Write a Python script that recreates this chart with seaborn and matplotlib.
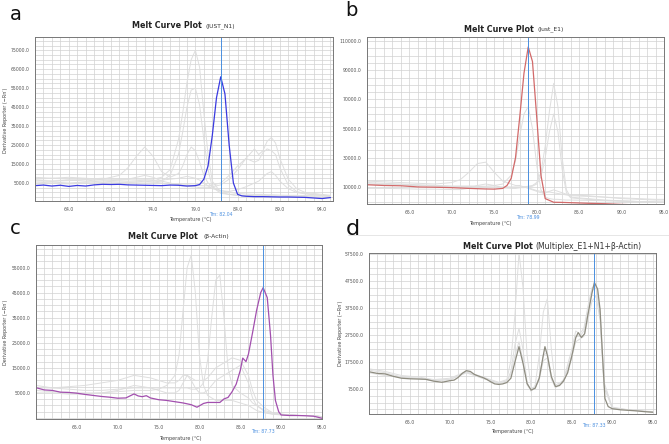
import matplotlib
matplotlib.use("Agg")
import matplotlib.pyplot as plt
import matplotlib.transforms as mtransforms
from matplotlib.ticker import MultipleLocator
from matplotlib.lines import Line2D
import seaborn as sns

# ---------------- panel a (JUST_N1) ----------------
a_main_t = [60, 61, 62, 63, 64, 65, 66, 67, 68, 69, 70, 71, 72, 73, 74, 75, 76, 77, 78, 79,
            79.5, 80, 80.5, 81, 81.5, 82, 82.5, 83, 83.5, 84, 84.5, 85, 86, 87, 88, 89, 90,
            91, 92, 93, 94, 95]
a_main_v = [3600, 3900, 3400, 3800, 3200, 3700, 3400, 4000, 4300, 4200, 4300, 4000, 3900, 3800,
            3700, 3600, 3900, 3800, 3400, 3600, 4200, 7000, 14000, 30000, 50000, 61000, 52000,
            25000, 5000, -1000, -1800, -2000, -2200, -2200, -2300, -2400, -2400, -2500, -2600,
            -2900, -3200, -2700]
a_gray_t = [60, 62, 64, 66, 68, 70, 71, 72, 73, 74, 75, 76, 77, 77.5, 78, 78.5, 79, 79.5, 80,
            80.5, 81, 82, 83, 84, 85, 86, 86.5, 87, 87.5, 88, 88.5, 89, 90, 91, 92, 94, 95]
a_gray = [
    [7000, 7500, 7000, 7000, 7500, 7000, 7000, 7000, 7000, 7000, 8000, 12000, 28000, 42000,
     58000, 70000, 75000, 66000, 42000, 20000, 6000, 0, -1000, -1500, -1500, -1500, -1500,
     -1500, -1500, -1800, -1800, -2000, -2000, -2000, -2200, -2500, -2500],
    [5000, 5500, 5000, 5500, 6000, 5500, 5500, 5500, 5500, 5500, 6000, 9000, 20000, 32000,
     45000, 54000, 55000, 46000, 28000, 12000, 3000, -500, -1000, -1500, -1800, -2000, -2000,
     -2000, -2000, -2200, -2200, -2300, -2300, -2400, -2400, -2500, -2500],
    [6000, 6000, 6500, 6000, 7000, 9000, 13000, 19000, 24000, 19000, 11000, 8000, 10000, 14000,
     20000, 24000, 22000, 16000, 9000, 5000, 3000, 1000, 0, -500, -800, -1000, -1000, -1000,
     -1200, -1200, -1300, -1400, -1500, -1500, -1600, -1800, -2000],
    [8000, 7500, 8000, 7500, 7000, 7000, 7000, 8000, 9000, 8000, 6000, 5000, 4000, 3500, 3500,
     3000, 3000, 2500, 2500, 2500, 3000, 4000, 7000, 12000, 18000, 23000, 20000, 22000, 27000,
     29000, 26000, 18000, 7000, 2000, 0, -1000, -1500],
    [4500, 4800, 4500, 5000, 5200, 5000, 5200, 5500, 6000, 5500, 5000, 4500, 4200, 4000, 4000,
     3800, 3800, 3600, 3500, 3500, 3800, 5000, 9000, 14000, 18000, 16000, 17000, 21000, 23000,
     22000, 20000, 13000, 4000, 500, -500, -1500, -2000],
    [6500, 6000, 6200, 6800, 6500, 6200, 6000, 6200, 6500, 6300, 6500, 7000, 7500, 8000, 8500,
     8000, 7500, 6500, 5000, 3500, 2000, 1000, 500, 1500, 3000, 5000, 6000, 8000, 10000, 11000,
     9000, 6000, 2000, 0, -800, -1500, -1800],
]

# ---------------- panel b (Just_E1) ----------------
b_main_t = [60, 62, 64, 66, 68, 70, 72, 74, 75, 76, 76.5, 77, 77.5, 78, 78.5, 79, 79.5, 80,
            80.5, 81, 82, 83, 84, 85, 86, 88, 90, 92, 94, 95]
b_main_v = [11500, 11000, 10800, 10000, 9800, 9500, 9000, 8600, 8500, 9000, 11000, 16000, 30000,
            58000, 88000, 106000, 96000, 58000, 18000, 2000, -500, -600, -800, -1000, -1200,
            -1500, -2000, -2300, -2600, -3000]
b_gray_t = [60, 62, 64, 66, 68, 70, 71, 72, 73, 74, 75, 76, 77, 77.5, 78, 78.5, 79, 79.5, 80,
            80.5, 81, 81.5, 82, 82.5, 83, 83.5, 84, 86, 88, 90, 92, 94, 95]
b_gray = [
    [13000, 12500, 12000, 11500, 11000, 10500, 10500, 10500, 10500, 10000, 10000, 10000, 10000,
     10000, 10000, 10000, 10500, 11000, 13000, 20000, 38000, 62000, 81000, 65000, 30000, 8000,
     3000, 2000, 1000, 500, 0, -500, -500],
    [12000, 11500, 11500, 11000, 10500, 10000, 10000, 10000, 9500, 9500, 9500, 9500, 9500, 9500,
     9500, 9500, 10000, 10500, 12000, 17000, 30000, 48000, 60000, 48000, 22000, 6000, 2500,
     1500, 800, 300, 0, -300, -500],
    [14000, 13500, 13000, 12500, 12000, 13000, 15000, 20000, 26000, 27000, 20000, 14000, 12000,
     11000, 11000, 10000, 9000, 8000, 7000, 6000, 6000, 7000, 8000, 7000, 6000, 5000, 4500,
     4000, 3000, 2000, 1500, 1000, 1000],
    [12000, 12000, 11500, 11000, 11000, 10500, 10500, 10500, 10500, 10500, 11000, 12000, 18000,
     28000, 45000, 60000, 65000, 50000, 25000, 8000, 3000, 2000, 1500, 1500, 1200, 1000, 1000,
     800, 500, 200, 0, -200, -300],
    [9000, 9000, 8800, 8500, 8500, 8200, 8200, 9000, 11000, 12000, 11000, 9500, 9000, 9000,
     9500, 10000, 9500, 8500, 7500, 7000, 6500, 6500, 6000, 5500, 5000, 4500, 4000, 3500, 3000,
     2500, 2000, 1500, 1500],
]

# ---------------- panel c (beta-Actin) ----------------
c_main_t = [60, 61, 62, 63, 64, 65, 66, 67, 68, 69, 70, 71, 72, 72.5, 73, 73.5, 74, 75, 76, 77,
            78, 79, 79.7, 80.5, 81, 82, 82.5, 83, 83.5, 84, 84.5, 85, 85.3, 85.7, 86, 86.5, 87,
            87.5, 87.8, 88.3, 88.7, 89, 89.3, 89.7, 90, 91, 92, 93, 94, 95]
c_main_v = [7100, 6200, 6000, 5300, 5200, 4900, 4400, 4000, 3600, 3300, 2900, 3000, 4600, 3800,
            3500, 3900, 3000, 2300, 2000, 1500, 1000, 300, -700, 800, 1200, 1200, 1200, 2600,
            3200, 5500, 8500, 14000, 18900, 17500, 20500, 29000, 38000, 45000, 47000, 43000,
            28000, 12000, 2000, -2500, -3800, -4000, -4000, -4100, -4300, -5100]
c_gray_t = [60, 62, 64, 66, 68, 70, 72, 74, 75, 76, 77, 77.5, 78, 78.5, 79, 79.5, 80, 80.5, 81,
            81.5, 82, 82.5, 83, 83.5, 84, 85, 86, 86.5, 87, 88, 89, 90, 92, 94, 95]
c_gray = [
    [6000, 5500, 5000, 5000, 5000, 5500, 6000, 6000, 6500, 8000, 12000, 20000, 38000, 55000,
     60000, 45000, 20000, 8000, 4000, 3000, 2000, 2000, 2000, 2000, 2000, 1000, 0, -1000, -2000,
     -3000, -3500, -3500, -4000, -4000, -4500],
    [8000, 7000, 6500, 6000, 6000, 6500, 7000, 7000, 7000, 7000, 7000, 7000, 7000, 7000, 6500,
     6500, 7000, 9000, 18000, 35000, 50000, 52000, 35000, 15000, 8000, 5000, 3000, 1000, 0,
     -2000, -3000, -3500, -4000, -4000, -4500],
    [7000, 7000, 7500, 8000, 9000, 10000, 12000, 11000, 10000, 9000, 9000, 10000, 12000, 12000,
     11000, 10000, 10000, 10000, 11000, 13000, 15000, 16000, 17000, 18000, 19000, 18000, 12000,
     6000, 2000, -1000, -3000, -3500, -4000, -4000, -4500],
    [5000, 5000, 4500, 4500, 5000, 6000, 8000, 7000, 6000, 5000, 5000, 6000, 9000, 12000,
     10000, 7000, 5000, 5000, 6000, 8000, 10000, 11000, 12000, 13000, 14000, 16000, 9000, 3000,
     0, -2500, -3500, -3800, -4000, -4200, -4500],
]

# ---------------- panel d (Multiplex) ----------------
d_main_t = [60, 61, 62, 63, 64, 65, 66, 67, 68, 69, 70, 70.5, 71, 71.5, 72, 72.5, 73, 73.5, 74,
            74.5, 75, 75.5, 76, 76.5, 77, 77.5, 78, 78.5, 79, 79.5, 80, 80.5, 81, 81.5, 81.7,
            82, 82.5, 83, 83.5, 84, 84.5, 85, 85.5, 85.8, 86.2, 86.6, 87, 87.5, 87.8, 88.2,
            88.5, 88.8, 89.1, 89.5, 90, 91, 92, 93, 94, 95]
d_main_v = [13900, 13300, 13100, 12200, 11500, 11300, 11200, 11100, 10400, 10000, 10600, 10800,
            11800, 13300, 14300, 14000, 12900, 12300, 11800, 11100, 10200, 9400, 9200, 9400,
            9900, 11500, 17500, 23200, 17000, 9500, 7100, 7800, 11500, 20000, 23200, 20000,
            12000, 8400, 8800, 10500, 13500, 19500, 26500, 28400, 26600, 28000, 35000, 43000,
            47000, 44500, 37000, 20000, 4000, 1000, 200, -200, -400, -600, -900, -1100]
d_gray_t = [60, 62, 64, 66, 68, 70, 72, 74, 76, 77, 77.5, 78, 78.5, 79, 79.5, 80, 80.5, 81, 81.5,
            82, 82.5, 83, 84, 85, 85.5, 86, 86.5, 87, 87.5, 88, 88.5, 89, 90, 92, 95]
d_gray = [
    [15000, 14000, 12500, 12000, 11000, 11500, 14000, 12000, 10000, 11000, 18000, 35000, 58000,
     45000, 20000, 8000, 8000, 12000, 20000, 21000, 12000, 8000, 10000, 19000, 25000, 26000,
     27000, 33000, 40000, 42000, 33000, 8000, 500, -300, -1000],
    [14500, 13500, 12000, 11500, 10500, 11000, 13500, 11500, 9500, 10500, 14000, 24000, 30000,
     22000, 10000, 6500, 9000, 20000, 36000, 41000, 22000, 9000, 10500, 20000, 27000, 27000,
     29000, 36000, 44000, 45000, 35000, 9000, 600, -300, -1000],
    [13500, 12500, 11800, 11500, 10800, 11000, 13800, 11500, 9800, 10500, 13000, 20000, 25000,
     18000, 9000, 7000, 8000, 11000, 18000, 19000, 11000, 8000, 11000, 22000, 29000, 28000,
     30000, 38000, 45000, 46000, 36000, 10000, 800, -200, -900],
]

sns.set_style("white")
fig = plt.figure(figsize=(6.69, 4.44), dpi=100)
W, H = 669.0, 444.0


def box(left, top, right, bottom):
    return [left / W, 1 - bottom / H, (right - left) / W, (bottom - top) / H]


tm_color = "#4a8fe0"
gray_color = "#dedede"


def panel(rect, gray_t, gray, main_t, main_v, color, xlim, ylim, xticks, yticks, ystep,
          tm, tm_label, tm_y):
    ax = fig.add_axes(rect)
    for g in gray:
        sns.lineplot(x=gray_t, y=g, color=gray_color, lw=0.7, ax=ax)
    sns.lineplot(x=main_t, y=main_v, color=color, lw=0.9, ax=ax)
    ax.axvline(tm, color=tm_color, lw=0.7)
    ax.set_xlim(*xlim)
    ax.set_ylim(*ylim)
    ax.set_xticks(xticks)
    ax.set_xticklabels([f"{t:.1f}" for t in xticks])
    ax.set_yticks(yticks)
    ax.set_yticklabels([f"{t:.1f}" for t in yticks])
    ax.xaxis.set_minor_locator(MultipleLocator(1))
    ax.yaxis.set_minor_locator(MultipleLocator(ystep / 4))
    ax.grid(which="both", color="#d2d2d2", lw=0.5)
    ax.set_axisbelow(True)
    ax.tick_params(which="major", labelsize=3.3, length=2, width=0.4, colors="#555555", pad=2)
    ax.tick_params(which="minor", length=0)
    for s in ax.spines.values():
        s.set_color("#777777")
        s.set_linewidth(0.7)
    ax.set_xlabel("")
    ax.set_ylabel("")
    # Tm label sits under the tick labels, y given in figure pixels
    trans = mtransforms.blended_transform_factory(ax.transData, fig.transFigure)
    ax.text(tm, 1 - tm_y / H, tm_label, transform=trans, fontsize=3.3, color=tm_color,
            ha="center", va="center")
    return ax


panel(box(35, 37, 333, 201), a_gray_t, a_gray, a_main_t, a_main_v, "#3a3ae0",
      (60, 95.3), (-4500, 82000), [64, 69, 74, 79, 84, 89, 94],
      [5000, 15000, 25000, 35000, 45000, 55000, 65000, 75000], 10000, 82.04, "Tm: 82.04", 214)
panel(box(367, 37, 664, 204), b_gray_t, b_gray, b_main_t, b_main_v, "#d26a6a",
      (60, 95), (-1700, 112800), [65, 70, 75, 80, 85, 90, 95],
      [10000, 30000, 50000, 70000, 90000, 110000], 20000, 78.99, "Tm: 78.99", 217)
panel(box(36, 245, 322, 419), c_gray_t, c_gray, c_main_t, c_main_v, "#a24fae",
      (60, 95), (-5400, 64000), [65, 70, 75, 80, 85, 90, 95],
      [5000, 15000, 25000, 35000, 45000, 55000], 10000, 87.73, "Tm: 87.73", 431)
panel(box(369, 253, 656, 414), d_gray_t, d_gray, d_main_t, d_main_v, "#8e8c80",
      (60, 95.4), (-1760, 57900), [65, 70, 75, 80, 85, 90, 95],
      [7500, 17500, 27500, 37500, 47500, 57500], 10000, 87.73, "Tm: 87.33", 425)


# axis titles and labels placed in pixel coordinates
def ftext(x, y, s, **kw):
    fig.text(x / W, 1 - y / H, s, **kw)


lab = dict(fontsize=3.5, color="#444444", ha="center", va="center")
ftext(190, 219, "Temperature (°C)", **lab)
ftext(490, 224, "Temperature (°C)", **lab)
ftext(180, 438, "Temperature (°C)", **lab)
ftext(512, 431, "Temperature (°C)", **lab)
ftext(6, 120, "Derivative Reporter (−Rn′)", rotation=90, **lab)
ftext(6, 332, "Derivative Reporter (−Rn′)", rotation=90, **lab)
ftext(341, 333, "Derivative Reporter (−Rn′)", rotation=90, **lab)

tb = dict(fontsize=5.8, fontweight="bold", color="#222222", va="center", ha="right")
tn = dict(fontsize=4.3, color="#333333", va="center", ha="left")
ftext(202, 26, "Melt Curve Plot", **tb)
ftext(205, 26, "(JUST_N1)", **tn)
ftext(534, 29, "Melt Curve Plot", **tb)
ftext(537, 29, "(Just_E1)", **tn)
ftext(198, 236, "Melt Curve Plot", **tb)
ftext(203, 236, "(β-Actin)", **tn)
ftext(533, 246, "Melt Curve Plot", **tb)
ftext(535, 246, "(Multiplex_E1+N1+β-Actin)", fontsize=5.6, color="#333333", va="center", ha="left")

pl = dict(fontsize=14, color="#111111", va="center", ha="left")
ftext(10, 14, "a", **pl)
ftext(345, 11, "b", **pl)
ftext(10, 229, "c", **pl)
ftext(346, 229, "d", fontsize=16, color="#111111", va="center", ha="left")

fig.add_artist(Line2D([348 / W, 1.0], [1 - 235 / H, 1 - 235 / H], color="#e2e2e2", lw=0.6))

fig.savefig("out.png", dpi=100)
